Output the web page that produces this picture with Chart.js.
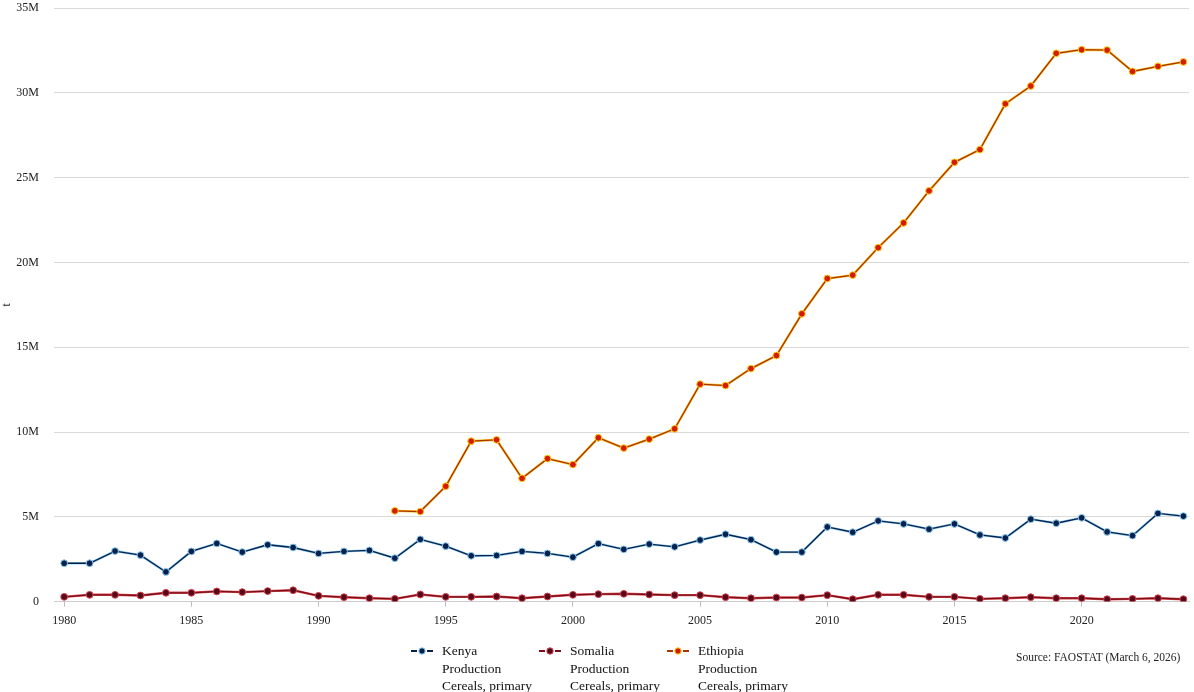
<!DOCTYPE html>
<html>
<head>
<meta charset="utf-8">
<script src="https://cdn.jsdelivr.net/npm/chart.js@4/dist/chart.umd.min.js"></script>
<style>
  html, body { margin: 0; padding: 0; overflow: hidden; background: #fff; }
  #wrap { position: relative; width: 1194px; height: 692px; }
  #chart { display: block; }
  #source { position: absolute; left: 1016px; top: 651px; font: 11.5px "Liberation Serif", serif; color: #222; }
  #legend { position: absolute; left: 410px; top: 642px; display: flex; font: 13.5px/17.5px "Liberation Serif", serif; color: #111; }
  .item { display: flex; align-items: flex-start; width: 128px; }
  .item canvas { margin-top: 4px; margin-right: 8px; }
</style>
</head>
<body>
<div id="wrap">
  <canvas id="chart" width="1194" height="692"></canvas>
  <div id="legend"></div>
  <div id="source">Source: FAOSTAT (March 6, 2026)</div>
</div>
<script>
// production, million tonnes
var years = [1980,1981,1982,1983,1984,1985,1986,1987,1988,1989,
             1990,1991,1992,1993,1994,1995,1996,1997,1998,1999,
             2000,2001,2002,2003,2004,2005,2006,2007,2008,2009,
             2010,2011,2012,2013,2014,2015,2016,2017,2018,2019,
             2020,2021,2022,2023,2024];
var kenya = [2.26,2.26,2.98,2.74,1.75,2.96,3.43,2.92,3.35,3.19,
             2.84,2.96,3.02,2.56,3.67,3.27,2.70,2.72,2.96,2.84,
             2.62,3.42,3.08,3.39,3.23,3.63,3.97,3.65,2.92,2.92,
             4.40,4.09,4.76,4.58,4.27,4.58,3.93,3.75,4.86,4.62,
             4.94,4.11,3.89,5.20,5.04];
var somalia = [0.28,0.40,0.40,0.36,0.52,0.52,0.60,0.56,0.62,0.67,
               0.34,0.26,0.20,0.16,0.42,0.28,0.28,0.30,0.20,0.30,
               0.40,0.44,0.46,0.42,0.38,0.38,0.26,0.20,0.24,0.24,
               0.38,0.14,0.40,0.40,0.28,0.28,0.16,0.20,0.26,0.20,
               0.20,0.14,0.16,0.20,0.14];
var ethiopia = [null,null,null,null,null,null,null,null,null,null,
                null,null,null,5.35,5.31,6.80,9.46,9.54,7.27,8.43,
                8.08,9.66,9.05,9.58,10.19,12.82,12.74,13.74,14.51,16.97,
                19.05,19.25,20.87,22.33,24.22,25.90,26.65,29.35,30.40,32.33,
                32.54,32.52,31.26,31.56,31.82];
var yTicks = [0, 5, 10, 15, 20, 25, 30, 35];
var seriesLabel = ['Production', 'Cereals, primary'];

var FONT = '"Liberation Serif", serif';

function pts(arr) {
    return years.map(function(y, i) {
        return { x: y, y: arr[i] == null ? null : arr[i] * 1e6 };
    });
}

// small "-o-" icon for the legend
function legendIcon(s) {
    var c = document.createElement('canvas');
    c.width = 24; c.height = 10;
    var g = c.getContext('2d');
    g.strokeStyle = s.core; g.lineWidth = 2;
    g.beginPath(); g.moveTo(1, 5); g.lineTo(7, 5); g.moveTo(17, 5); g.lineTo(23, 5); g.stroke();
    g.beginPath(); g.arc(12, 5, 3.2, 0, Math.PI * 2);
    g.fillStyle = s.fill; g.fill();
    g.strokeStyle = s.ring; g.lineWidth = 1; g.stroke();
    return c;
}

var series = [
    { name: 'Kenya', data: kenya, core: '#08204e', halo: '#8ccdf0', fill: '#08204e', ring: '#8ccdf0' },
    { name: 'Somalia', data: somalia, core: '#7a0e18', halo: '#d8434a', fill: '#55091a', ring: '#d8434a' },
    { name: 'Ethiopia', data: ethiopia, core: '#a83400', halo: '#ffbf22', fill: '#d41c00', ring: '#ffd21a' }
];

var datasets = [];
series.forEach(function(s) {
    datasets.push({
        label: s.name,
        data: pts(s.data),
        borderColor: s.core,
        borderWidth: 1.3,
        pointRadius: 3.4,
        pointBackgroundColor: s.fill,
        pointBorderColor: s.ring,
        pointBorderWidth: 1,
        order: 1
    });
    datasets.push({
        label: s.name + ' halo',
        data: pts(s.data),
        borderColor: s.halo,
        borderWidth: 2.4,
        pointRadius: 0,
        order: 2
    });
});

// html legend
var legendEl = document.getElementById('legend');
series.forEach(function(s) {
    var item = document.createElement('div');
    item.className = 'item';
    item.appendChild(legendIcon(s));
    var txt = document.createElement('div');
    txt.innerHTML = [s.name].concat(seriesLabel).join('<br>');
    item.appendChild(txt);
    legendEl.appendChild(item);
});

function noPad(s) {
    s.paddingLeft = 0; s.paddingRight = 0; s.paddingTop = 0; s.paddingBottom = 0;
}

var ctx = document.getElementById('chart').getContext('2d');
var chart = new Chart(ctx, {
    type: 'line',
    data: { datasets: datasets },
    options: {
        responsive: false,
        animation: false,
        layout: { padding: { top: 8, right: 0, left: 0, bottom: 57 } },
        plugins: {
            tooltip: { enabled: false },
            legend: { display: false }
        },
        scales: {
            x: {
                type: 'linear',
                min: 1979.6,
                max: 2024.22,
                afterFit: noPad,
                grid: { drawOnChartArea: false, drawTicks: true, tickLength: 5, color: '#bbb' },
                border: { color: '#ccc' },
                ticks: {
                    stepSize: 5,
                    includeBounds: false,
                    padding: 7,
                    color: '#222',
                    font: { family: FONT, size: 12 },
                    callback: function(v) { return String(v); }
                }
            },
            y: {
                min: 0,
                max: 35e6,
                afterFit: function(s) { s.width = 54; noPad(s); },
                afterBuildTicks: function(s) {
                    s.ticks = yTicks.map(function(v) { return { value: v * 1e6 }; });
                },
                grid: { color: '#d9d9d9', drawTicks: false },
                border: { display: false },
                title: { display: true, text: 't', color: '#222', font: { family: FONT, size: 12 }, padding: 0 },
                ticks: {
                    padding: 15,
                    color: '#222',
                    font: { family: FONT, size: 12 },
                    callback: function(v) { return v === 0 ? '0' : (v / 1e6) + 'M'; }
                }
            }
        }
    }
});
</script>
</body>
</html>
